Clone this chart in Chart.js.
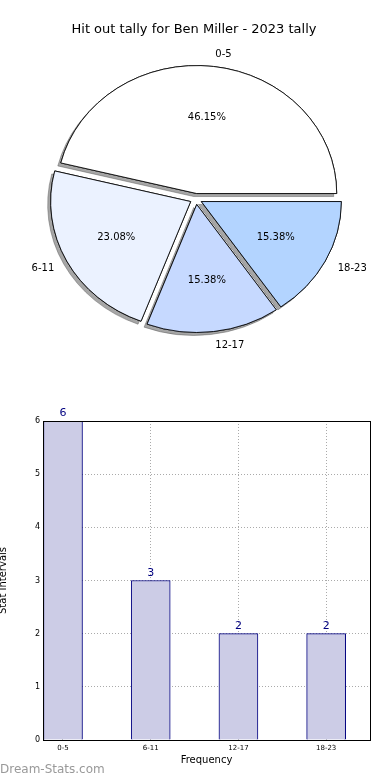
<!DOCTYPE html>
<html>
<head>
<meta charset="utf-8">
<script src="https://cdn.jsdelivr.net/npm/chart.js@4.4.1/dist/chart.umd.min.js"></script>
<style>
    body { margin: 0; background: #fff; }
    canvas { display: block; }
</style>
</head>
<body>
<canvas id="pie-chart" width="390" height="390"></canvas>
<canvas id="bar-chart" width="390" height="390"></canvas>
<script>
// Data
const categories = ['0-5', '6-11', '12-17', '18-23'];
const tallies = [6, 3, 2, 2];
const sliceColors = ['#ffffff', '#ebf2ff', '#c6d9ff', '#b3d4ff'];
const yTicks = [0, 1, 2, 3, 4, 5, 6];

const chartTitle = 'Hit out tally for Ben Miller - 2023 tally';
const FONT = "'DejaVu Sans', sans-serif";

// pie geometry (matplotlib look: squashed a bit, exploded, with shadows)
const STRETCH_X = 140 / 128;
const EXPLODE = 5.5;

const total = tallies.reduce((a, b) => a + b, 0);

const piePlugin = {
    id: 'mplPie',
    beforeDatasetDraw(chart, args) {
        const ctx = chart.ctx;
        const arcs = args.meta.data;
        // draw in matplotlib order (first category first): shadow, then wedge
        for (let j = arcs.length - 1; j >= 0; j--) {
            const arc = arcs[j];
            const mid = (arc.startAngle + arc.endAngle) / 2;
            [true, false].forEach(withShadow => {
                ctx.save();
                ctx.translate(arc.x, arc.y);
                ctx.scale(STRETCH_X, 1);
                ctx.translate(-arc.x, -arc.y);
                ctx.translate(Math.cos(mid) * EXPLODE, Math.sin(mid) * EXPLODE);
                if (withShadow) {
                    ctx.shadowColor = 'rgba(77, 77, 77, 0.5)';
                    ctx.shadowOffsetX = -3;
                    ctx.shadowOffsetY = 3;
                    ctx.shadowBlur = 0;
                }
                arc.draw(ctx);
                ctx.restore();
            });
        }
        return false;
    },
    afterDraw(chart) {
        const ctx = chart.ctx;
        const arcs = chart.getDatasetMeta(0).data;
        ctx.save();
        ctx.fillStyle = '#000';
        ctx.font = '13px ' + FONT;
        ctx.textAlign = 'center';
        ctx.textBaseline = 'middle';
        ctx.fillText(chartTitle, 194, 30);

        ctx.font = '10px ' + FONT;
        arcs.forEach((arc, j) => {
            const k = arcs.length - 1 - j;
            const mid = (arc.startAngle + arc.endAngle) / 2;
            const R = arc.outerRadius;
            const c = Math.cos(mid), s = Math.sin(mid);

            const lx = arc.x + STRETCH_X * c * (EXPLODE + 1.1 * R);
            const ly = arc.y + s * (EXPLODE + 1.1 * R);
            ctx.textAlign = c > 0 ? 'left' : 'right';
            ctx.fillText(categories[k], lx, ly + 1);

            const px = arc.x + STRETCH_X * c * (EXPLODE + 0.6 * R);
            const py = arc.y + s * (EXPLODE + 0.6 * R);
            ctx.textAlign = 'center';
            ctx.fillText((tallies[k] / total * 100).toFixed(2) + '%', px, py);
        });
        ctx.restore();
    }
};

new Chart(document.getElementById('pie-chart'), {
    type: 'pie',
    data: {
        labels: [...categories].reverse(),
        datasets: [{
            data: [...tallies].reverse(),
            backgroundColor: [...sliceColors].reverse(),
            borderColor: '#000',
            borderWidth: 0.8
        }]
    },
    options: {
        responsive: false,
        animation: false,
        events: [],
        rotation: 90,
        radius: 128,
        layout: { padding: { top: 8, left: 2, right: 0, bottom: 0 } },
        plugins: {
            legend: { display: false },
            tooltip: { enabled: false }
        }
    },
    plugins: [piePlugin]
});

const barPlugin = {
    id: 'mplBar',
    afterDatasetsDraw(chart) {
        const ctx = chart.ctx;
        ctx.save();
        ctx.fillStyle = '#000080';
        ctx.font = '11px ' + FONT;
        ctx.textAlign = 'center';
        ctx.textBaseline = 'bottom';
        chart.getDatasetMeta(0).data.forEach((bar, i) => {
            ctx.fillText(String(tallies[i]), bar.x, bar.y - 2);
        });
        ctx.restore();
    },
    afterDraw(chart) {
        const ctx = chart.ctx;
        const a = chart.chartArea;
        ctx.save();
        ctx.strokeStyle = '#000';
        ctx.lineWidth = 1;
        ctx.strokeRect(Math.round(a.left) + 0.5, Math.round(a.top) + 0.5,
            Math.round(a.right - a.left), Math.round(a.bottom - a.top));

        ctx.fillStyle = '#000';
        ctx.font = '10px ' + FONT;
        ctx.textAlign = 'center';
        ctx.textBaseline = 'middle';
        ctx.fillText('Frequency', (a.left + a.right) / 2, 370);

        ctx.translate(3, (a.top + a.bottom) / 2);
        ctx.rotate(-Math.PI / 2);
        ctx.fillText('Stat Intervals', 0, 0);
        ctx.restore();

        ctx.save();
        ctx.fillStyle = '#999';
        ctx.font = '12px ' + FONT;
        ctx.textAlign = 'left';
        ctx.textBaseline = 'middle';
        ctx.fillText('Dream-Stats.com', 0, 380);
        ctx.restore();
    }
};

const gridStyle = { color: '#aaaaaa', lineWidth: 1, drawTicks: false, offset: false };

new Chart(document.getElementById('bar-chart'), {
    type: 'bar',
    data: {
        datasets: [{
            data: categories.map((c, i) => ({ x: i, y: tallies[i] })),
            backgroundColor: '#cccce6',
            borderColor: '#000080',
            borderWidth: 1,
            barThickness: 39
        }]
    },
    options: {
        responsive: false,
        animation: false,
        events: [],
        layout: { padding: { top: 31, left: 0, right: 20, bottom: 0 } },
        plugins: {
            legend: { display: false },
            tooltip: { enabled: false }
        },
        scales: {
            x: {
                type: 'linear',
                offset: false,
                min: -0.228,
                max: 3.5,
                z: 1,
                afterFit: s => { s.height = 40; },
                afterBuildTicks: s => { s.ticks = categories.map((c, i) => ({ value: i })); },
                ticks: {
                    callback: v => categories[v],
                    font: { family: FONT, size: 7 },
                    color: '#000',
                    padding: 4,
                    maxRotation: 0
                },
                grid: gridStyle,
                border: { display: false, dash: [1, 2] }
            },
            y: {
                min: 0,
                max: 6,
                z: 1,
                afterFit: s => { s.width = 43; },
                afterBuildTicks: s => { s.ticks = yTicks.map(v => ({ value: v })); },
                ticks: {
                    font: { family: FONT, size: 8 },
                    color: '#000',
                    padding: 3
                },
                grid: gridStyle,
                border: { display: false, dash: [1, 2] }
            }
        }
    },
    plugins: [barPlugin]
});
</script>
</body>
</html>
